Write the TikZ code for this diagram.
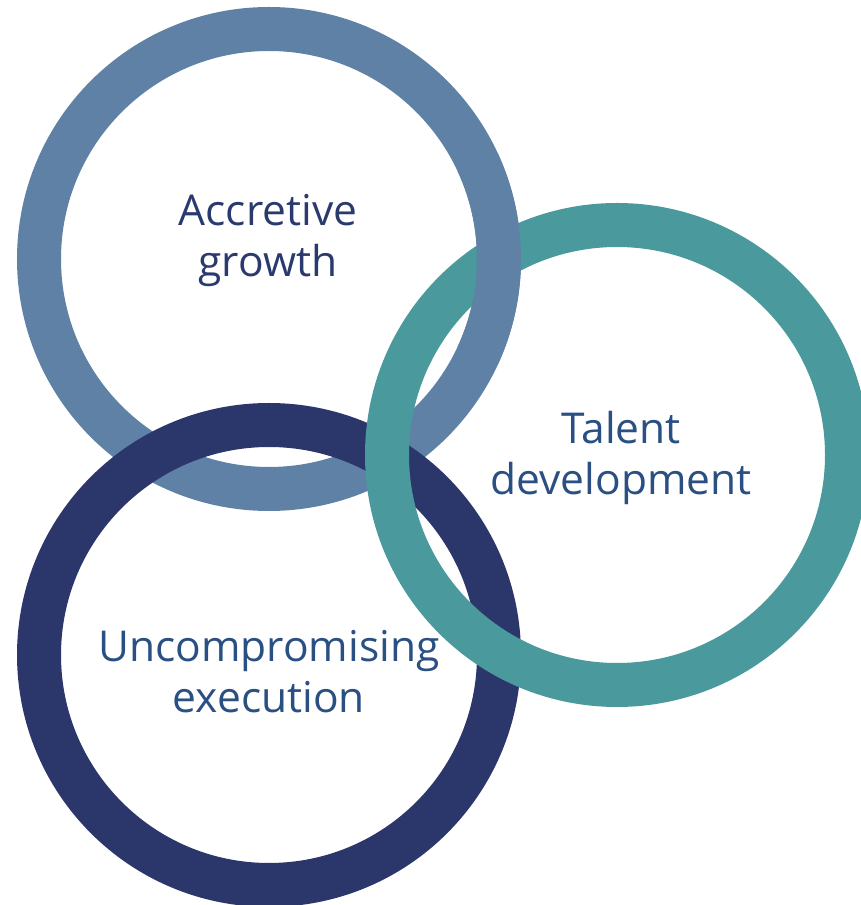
\documentclass[tikz,border=0pt]{standalone}
\usepackage{fontspec}
\setmainfont{Open Sans}

\definecolor{slate}{HTML}{5F81A5}
\definecolor{teal}{HTML}{4A999D}
\definecolor{navy}{HTML}{2B376B}
\definecolor{ink}{HTML}{2A4F82}
\definecolor{inkdark}{HTML}{2B3A6E}

\begin{document}
\begin{tikzpicture}[x=1pt, y=1pt]

	\tikzstyle{ring}=[line width=44pt]
	\tikzstyle{etiqueta}=[align=center, font=\fontsize{42.5}{51}\selectfont, inner sep=0pt]

	\useasboundingbox (0, 0) rectangle (861, 905);
	\clip (0, 0) rectangle (861, 905);

	\coordinate (c_a) at (269, 646); % ANILLO SUPERIOR
	\coordinate (c_t) at (617, 450); % ANILLO DERECHO
	\coordinate (c_u) at (269, 250); % ANILLO INFERIOR

	% anillos, el ultimo queda encima
	\draw[ring, slate] (c_a) circle[radius=230pt];
	\draw[ring, navy] (c_u) circle[radius=230pt];
	\draw[ring, teal] (c_t) circle[radius=230pt];
	% cruce: el superior pasa por encima del derecho
	\draw[ring, slate] (c_a) ++(-25:230pt) arc[start angle=-25, end angle=25, radius=230pt];

	\node[etiqueta, text=inkdark] (accretive) at (268, 664) {Accretive\\growth};
	\node[etiqueta, text=ink] (talent) at (621, 447) {Talent\\development};
	\node[etiqueta, text=ink] (uncompromising) at (269, 233) {Uncompromising\\execution};

\end{tikzpicture}
\end{document}
